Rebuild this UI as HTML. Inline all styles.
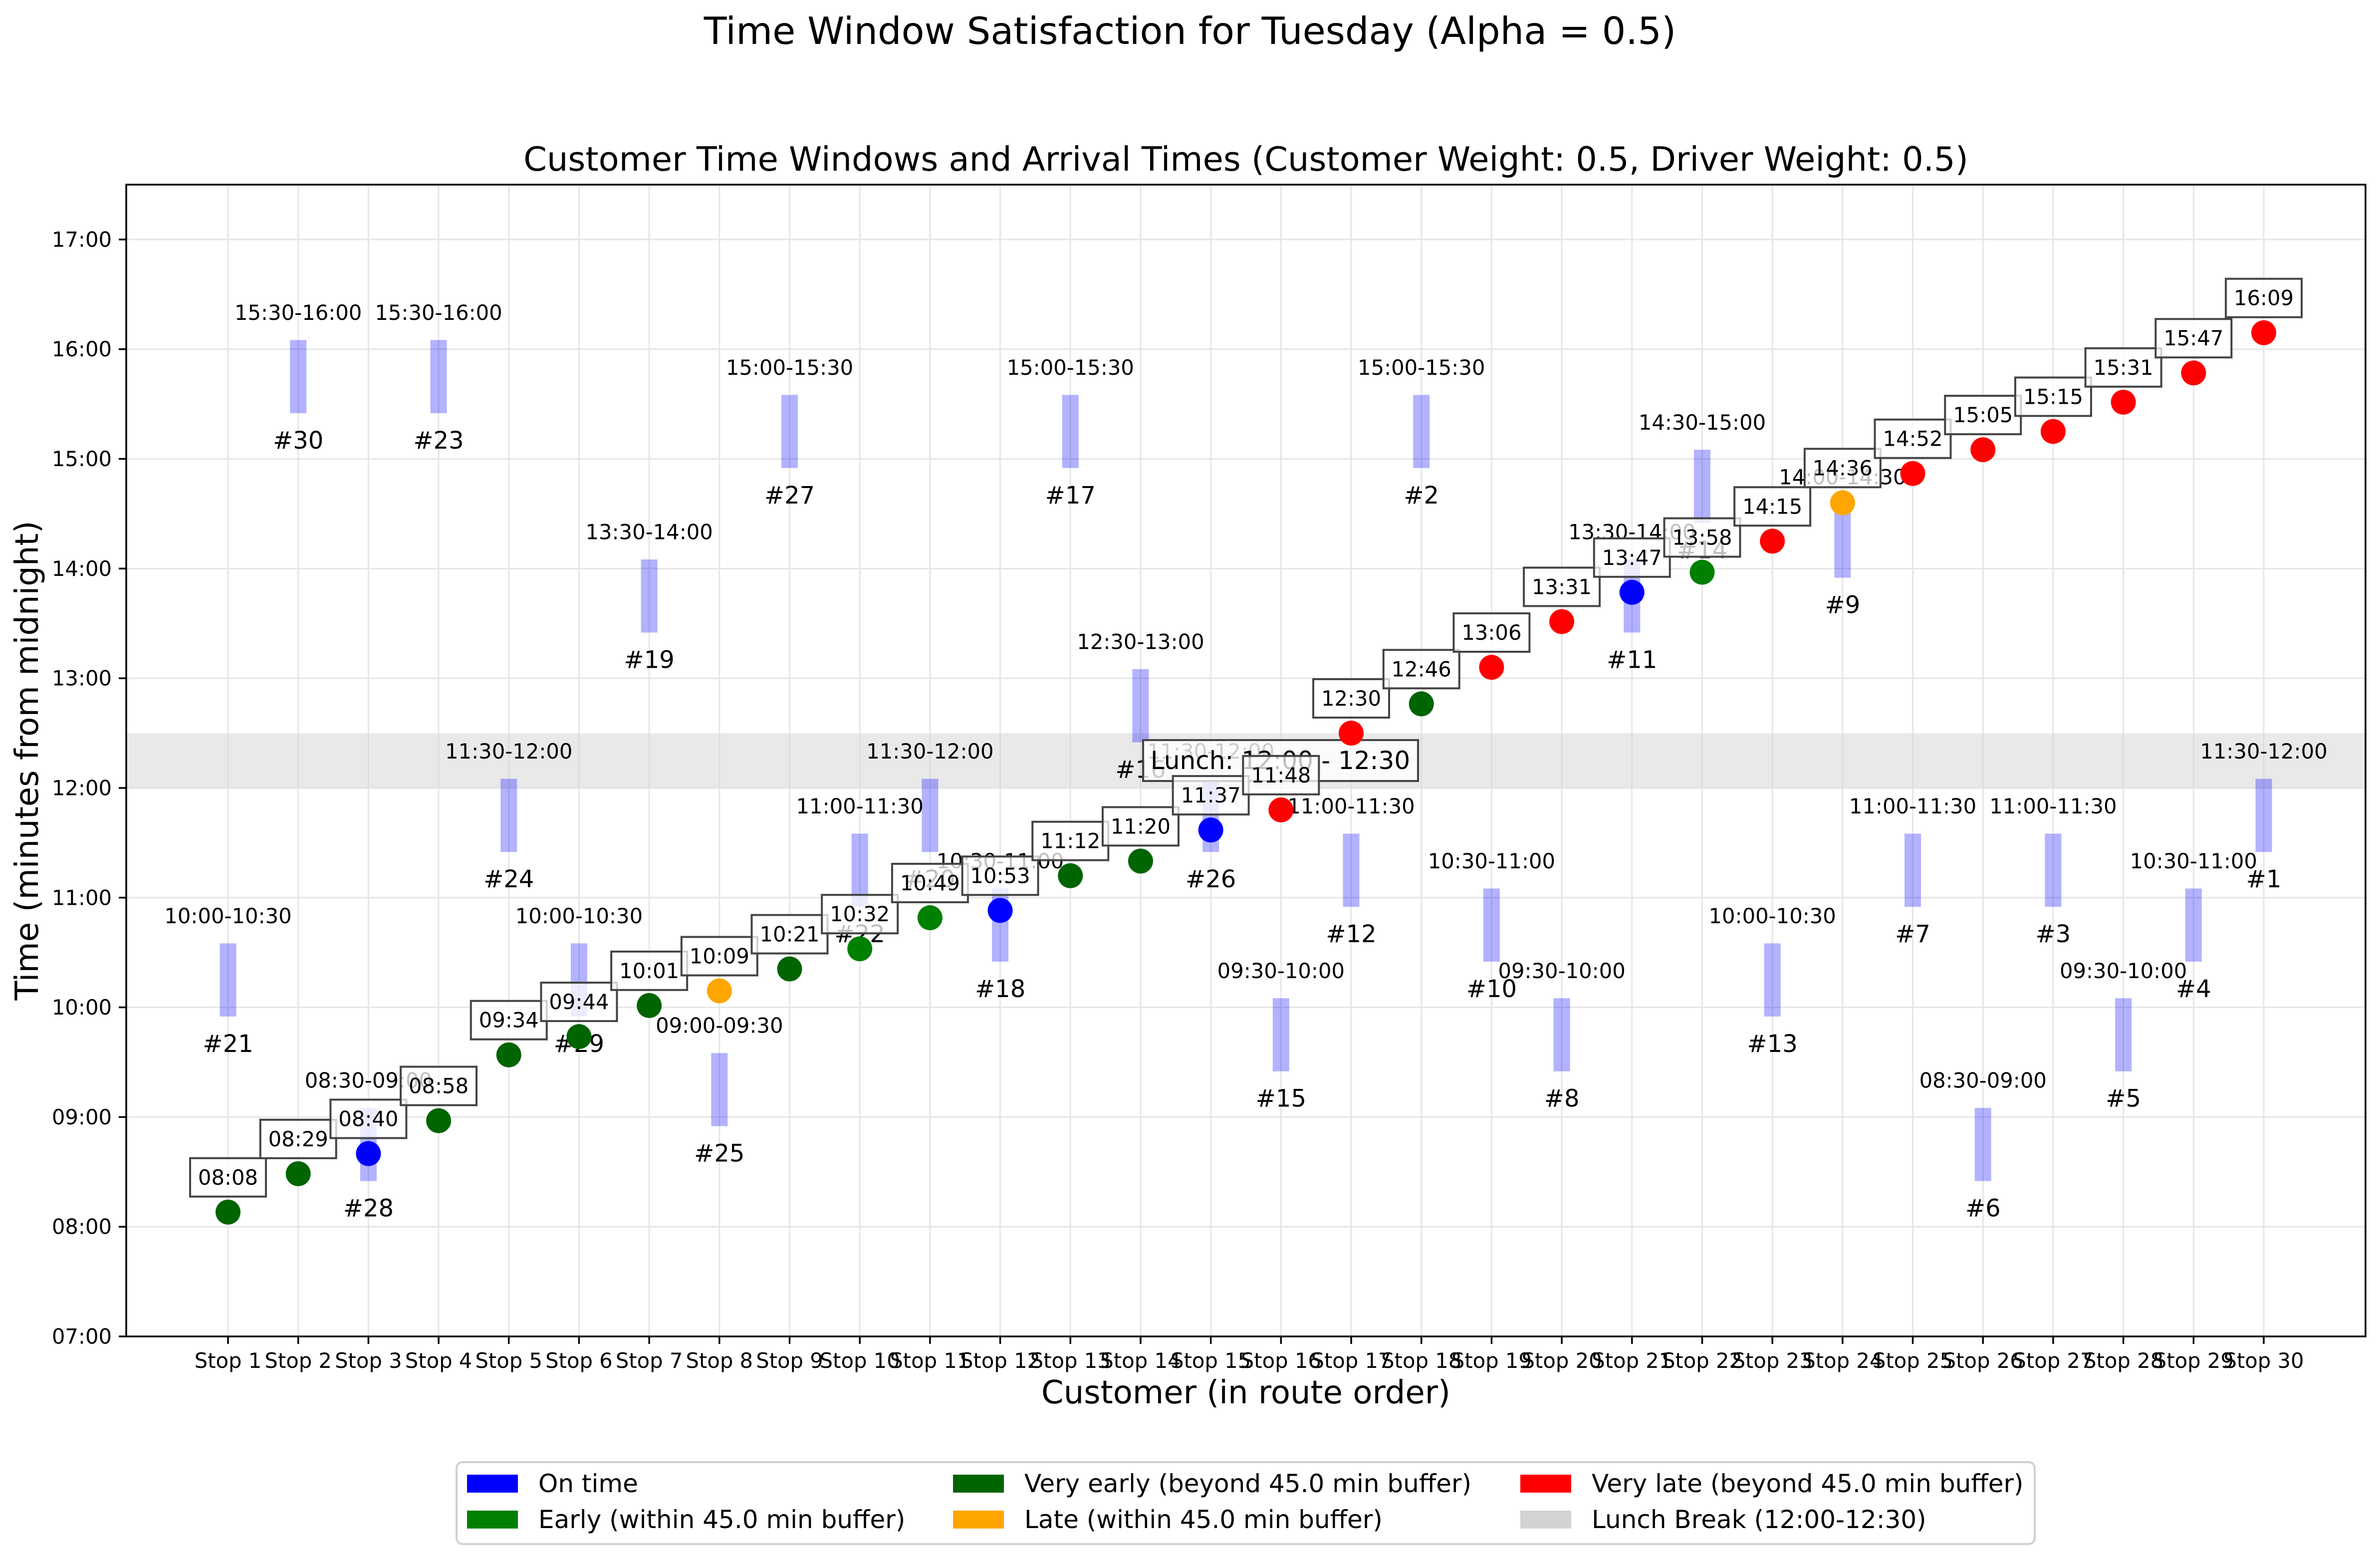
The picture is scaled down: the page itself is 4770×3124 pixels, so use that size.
<!DOCTYPE html>
<html><head><meta charset="utf-8"><style>
html,body{margin:0;padding:0;background:#fff;}
svg{display:block;font-family:"DejaVu Sans","Liberation Sans",sans-serif;}
</style></head><body>
<svg id="chart" width="4770" height="3124" viewBox="0 0 4770 3124" xmlns="http://www.w3.org/2000/svg">
<rect x="0" y="0" width="4770" height="3124" fill="#fff"/>
<text x="2385" y="88" font-size="75" text-anchor="middle">Time Window Satisfaction for Tuesday (Alpha = 0.5)</text>
<text x="2497" y="342" font-size="67" text-anchor="middle">Customer Time Windows and Arrival Times (Customer Weight: 0.5, Driver Weight: 0.5)</text>
<text x="2497" y="2812" font-size="64" text-anchor="middle">Customer (in route order)</text>
<text x="55" y="1524" font-size="64" text-anchor="middle" transform="rotate(-90 55 1524)" dominant-baseline="central">Time (minutes from midnight)</text>
<g id="plot"></g>
<g id="legend"></g>
</svg>
<script>
const stops = ["Stop 1","Stop 2","Stop 3","Stop 4","Stop 5","Stop 6","Stop 7","Stop 8","Stop 9","Stop 10","Stop 11","Stop 12","Stop 13","Stop 14","Stop 15","Stop 16","Stop 17","Stop 18","Stop 19","Stop 20","Stop 21","Stop 22","Stop 23","Stop 24","Stop 25","Stop 26","Stop 27","Stop 28","Stop 29","Stop 30"];
const customerIds = [21,30,28,23,24,29,19,25,27,22,20,18,17,16,26,15,12,2,10,8,11,14,13,9,7,6,3,5,4,1];
const arrivals = ["08:08","08:29","08:40","08:58","09:34","09:44","10:01","10:09","10:21","10:32","10:49","10:53","11:12","11:20","11:37","11:48","12:30","12:46","13:06","13:31","13:47","13:58","14:15","14:36","14:52","15:05","15:15","15:31","15:47","16:09"];
const windowStarts = ["10:00","15:30","08:30","15:30","11:30","10:00","13:30","09:00","15:00","11:00","11:30","10:30","15:00","12:30","11:30","09:30","11:00","15:00","10:30","09:30","13:30","14:30","10:00","14:00","11:00","08:30","11:00","09:30","10:30","11:30"];
const windowEnds = ["10:30","16:00","09:00","16:00","12:00","10:30","14:00","09:30","15:30","11:30","12:00","11:00","15:30","13:00","12:00","10:00","11:30","15:30","11:00","10:00","14:00","15:00","10:30","14:30","11:30","09:00","11:30","10:00","11:00","12:00"];
const statuses = ["veryEarly","veryEarly","onTime","veryEarly","veryEarly","veryEarly","veryEarly","late","veryEarly","early","early","onTime","veryEarly","veryEarly","onTime","veryLate","veryLate","veryEarly","veryLate","veryLate","onTime","early","veryLate","late","veryLate","veryLate","veryLate","veryLate","veryLate","veryLate"];
const yTickLabels = ["07:00","08:00","09:00","10:00","11:00","12:00","13:00","14:00","15:00","16:00","17:00"];
const lunchStart = "12:00", lunchEnd = "12:30";

const NS = "http://www.w3.org/2000/svg";
const L = 253, R = 4741, T = 370, B = 2678;
const XMIN = -0.45, XMAX = 31.45, YMIN = 7*60, YMAX = 17.5*60;
const colors = {onTime:"#0000ff", early:"#008000", veryEarly:"#006400", late:"#ffa500", veryLate:"#ff0000"};
function toMin(s){const p=s.split(":");return (+p[0])*60+(+p[1]);}
function xs(i){return L + (i - XMIN)/(XMAX - XMIN)*(R-L);}
function ys(m){return B - (m - YMIN)/(YMAX - YMIN)*(B-T);}
function mk(tag, attrs, parent){const e=document.createElementNS(NS,tag);for(const k in attrs)e.setAttribute(k,attrs[k]);parent.appendChild(e);return e;}
const plot = document.getElementById("plot");

yTickLabels.forEach(t=>{
  const g = mk("line",{x1:L,x2:R,y1:ys(toMin(t)),y2:ys(toMin(t)),stroke:"#e6e6e6","stroke-width":3},plot);
  
  
});
stops.forEach((s,i)=>{
  const g = mk("line",{x1:xs(i+1),x2:xs(i+1),y1:T,y2:B,stroke:"#e6e6e6","stroke-width":3},plot);
  
  
});
const band = mk("rect",{x:L,width:R-L,y:ys(toMin(lunchEnd)),height:ys(toMin(lunchStart))-ys(toMin(lunchEnd)),fill:"#d3d3d3","fill-opacity":0.5},plot);



stops.forEach((s,i)=>{
  const x = xs(i+1), st = toMin(windowStarts[i]), en = toMin(windowEnds[i]);
  const bar = mk("rect",{x:x-16.5,width:33,y:ys(en+5),height:ys(st-5)-ys(en+5),fill:"#0000ff","fill-opacity":0.3},plot);
  
  
  const wl = mk("text",{x:x,y:ys(en+20),"font-size":41.7,"text-anchor":"middle","dominant-baseline":"central"},plot);
  wl.textContent = windowStarts[i]+"-"+windowEnds[i];
  
  
  const cl = mk("text",{x:x,y:ys(st-20),"font-size":48,"text-anchor":"middle","dominant-baseline":"central"},plot);
  cl.textContent = "#"+customerIds[i];
  
  
});
const lunchMid = (toMin(lunchStart)+toMin(lunchEnd))/2;
const lb = mk("rect",{x:2291,y:ys(lunchMid)-41,width:551,height:82,fill:"#fff","fill-opacity":0.8,stroke:"#444","stroke-width":4},plot);


const lt = mk("text",{x:2566,y:ys(lunchMid),"font-size":50,"text-anchor":"middle","dominant-baseline":"central"},plot);
lt.textContent = "Lunch: "+lunchStart+" - "+lunchEnd;



stops.forEach((s,i)=>{
  const x = xs(i+1), a = toMin(arrivals[i]);
  const c = mk("circle",{cx:x,cy:ys(a),r:25,fill:colors[statuses[i]]},plot);
  
  
  const by = ys(a+19);
  const bx = mk("rect",{x:x-76,y:by-38.5,width:152,height:77,fill:"#fff","fill-opacity":0.75,stroke:"#444","stroke-width":4},plot);
  
  
  const tx = mk("text",{x:x,y:by,"font-size":41.7,"text-anchor":"middle","dominant-baseline":"central"},plot);
  tx.textContent = arrivals[i];
  
  
});

const sp = mk("rect",{x:L,y:T,width:R-L,height:B-T,fill:"none",stroke:"#000","stroke-width":3.5},plot);


yTickLabels.forEach(t=>{
  const y = ys(toMin(t));
  const tk = mk("line",{x1:L-15,x2:L,y1:y,y2:y,stroke:"#000","stroke-width":3.5},plot);
  
  
  const tl = mk("text",{x:L-29,y:y,"font-size":41.7,"text-anchor":"end","dominant-baseline":"central"},plot);
  tl.textContent = t;
  
  
});
stops.forEach((s,i)=>{
  const x = xs(i+1);
  const tk = mk("line",{x1:x,x2:x,y1:B,y2:B+15,stroke:"#000","stroke-width":3.5},plot);
  
  
  const tl = mk("text",{x:x,y:2741,"font-size":41.7,"text-anchor":"middle"},plot);
  tl.textContent = s;
  
  
});

const legendLabels = ["On time","Early (within 45.0 min buffer)","Very early (beyond 45.0 min buffer)","Late (within 45.0 min buffer)","Very late (beyond 45.0 min buffer)","Lunch Break (12:00-12:30)"];
const legendColors = ["#0000ff","#008000","#006400","#ffa500","#ff0000","#d3d3d3"];
const lg = document.getElementById("legend");
const frame = mk("rect",{x:915,y:2930,width:3163,height:164,rx:12,fill:"#fff",stroke:"#d0d0d0","stroke-width":4},lg);


const colX = [936,1910,3047];
const rowY = [2973,3045];
legendLabels.forEach((lab,k)=>{
  const col = Math.floor(k/2), row = k%2;
  const p = mk("rect",{x:colX[col],y:rowY[row]-18,width:102,height:36,fill:legendColors[k]},lg);
  
  
  const t = mk("text",{x:colX[col]+143,y:rowY[row],"font-size":50,"dominant-baseline":"central"},lg);
  t.textContent = lab;
  
  
});
</script>
</body></html>
